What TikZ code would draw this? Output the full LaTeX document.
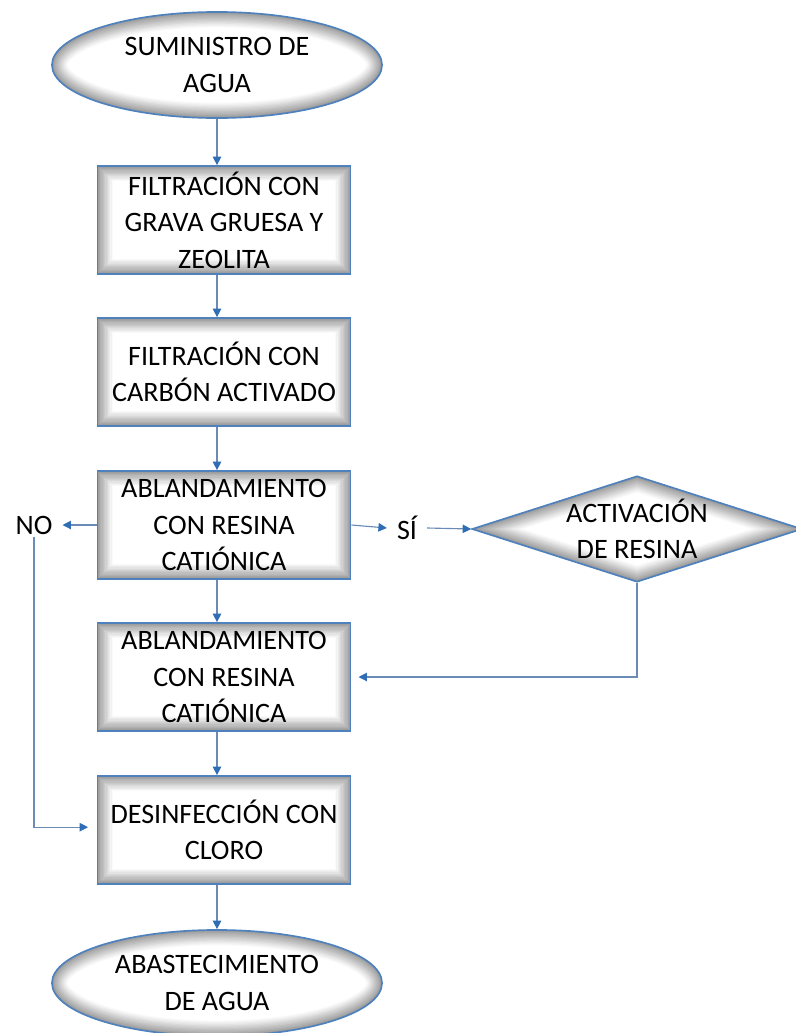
\documentclass[tikz,border=0pt]{standalone}
\usepackage{fontspec}
\setmainfont{Carlito}
\usetikzlibrary{shapes.geometric,arrows.meta,calc}
\definecolor{boxblue}{HTML}{4F81BD}
\definecolor{linegray}{HTML}{6A8BB5}
\definecolor{tipblue}{HTML}{2F6DB5}
% soft grey rim drawn inside a shape (clipped by path picture)
\newcommand{\innerglow}[1]{\foreach \i in {0,...,11}{\pgfmathsetmacro\w{22-1.8*\i}\pgfmathtruncatemacro\s{2+3.3*\i}\draw[line width=\w pt,black!\s] #1;}}
\begin{document}
\begin{tikzpicture}[x=0.025cm,y=-0.025cm]
        \tikzstyle{terminal}=[ellipse,draw=boxblue,line width=1.2pt,fill=white,minimum width=8.25cm,minimum height=2.65cm,inner sep=0pt,align=center,font=\fontsize{20}{26}\selectfont,
          path picture={\innerglow{let \p1=(path picture bounding box.north east),\p2=(path picture bounding box.center) in (\p2) ellipse [x radius={\x1-\x2},y radius={\y1-\y2}]}}]
        \tikzstyle{process}=[rectangle,draw=boxblue,line width=1.2pt,fill=white,minimum width=6.33cm,minimum height=2.7cm,inner sep=0pt,align=center,font=\fontsize{20}{26}\selectfont,
          path picture={\innerglow{(path picture bounding box.south west) rectangle (path picture bounding box.north east)}}]
        \tikzstyle{decision}=[diamond,draw=boxblue,line width=1.2pt,fill=white,aspect=3.1,minimum width=8.25cm,minimum height=2.65cm,inner sep=0pt,align=center,font=\fontsize{20}{26}\selectfont,
          path picture={\innerglow{(path picture bounding box.north) -- (path picture bounding box.east) -- (path picture bounding box.south) -- (path picture bounding box.west) -- cycle}}]
        \tikzstyle{answer}=[inner ysep=2pt,inner xsep=7pt,font=\fontsize{20}{26}\selectfont]
        \tikzstyle{edge}=[draw=linegray,line width=0.8pt,-{Triangle[length=6pt,width=6pt,color=tipblue]}]
        \useasboundingbox (0,0) rectangle (796,1033);
        \begin{scope}
           \node [terminal] (start) at (217,65) {SUMINISTRO DE\\AGUA};
           \node [process] (grava) at (224,220) {FILTRACIÓN CON\\GRAVA GRUESA Y\\ZEOLITA};
           \node [process] (carbon) at (224,372) {FILTRACIÓN CON\\CARBÓN ACTIVADO};
           \node [process] (resina1) at (224,525) {ABLANDAMIENTO\\CON RESINA\\CATIÓNICA};
           \node [process] (resina2) at (224,677) {ABLANDAMIENTO\\CON RESINA\\CATIÓNICA};
           \node [process] (cloro) at (224,830) {DESINFECCIÓN CON\\CLORO};
           \node [terminal] (fin) at (217,983) {ABASTECIMIENTO\\DE AGUA};
           \node [answer] (no) at (34,525) {NO};
           \node [answer] (si) at (407,528) {SÍ};
           \node [decision] (activ) at (637,529) {ACTIVACIÓN\\DE RESINA};
           \path (start.south) edge[edge] (start.south |- grava.north);
           \path (start.south |- grava.south) edge[edge] (start.south |- carbon.north);
           \path (start.south |- carbon.south) edge[edge] (start.south |- resina1.north);
           \path (start.south |- resina1.south) edge[edge] (start.south |- resina2.north);
           \path (start.south |- resina2.south) edge[edge] (start.south |- cloro.north);
           \path (start.south |- cloro.south) edge[edge] (start.south |- fin.north);
           \path (resina1.west) edge[edge] (no.east);
           \path (resina1.east) edge[edge] (si.west);
           \path (si.east) edge[edge] (activ.west);
           \draw[edge,shorten >=5pt] (activ.south) |- (resina2.east);
           \draw[edge,shorten >=6pt] (no.south) |- ([yshift=2pt]cloro.west);
        \end{scope}
      \end{tikzpicture}
\end{document}
